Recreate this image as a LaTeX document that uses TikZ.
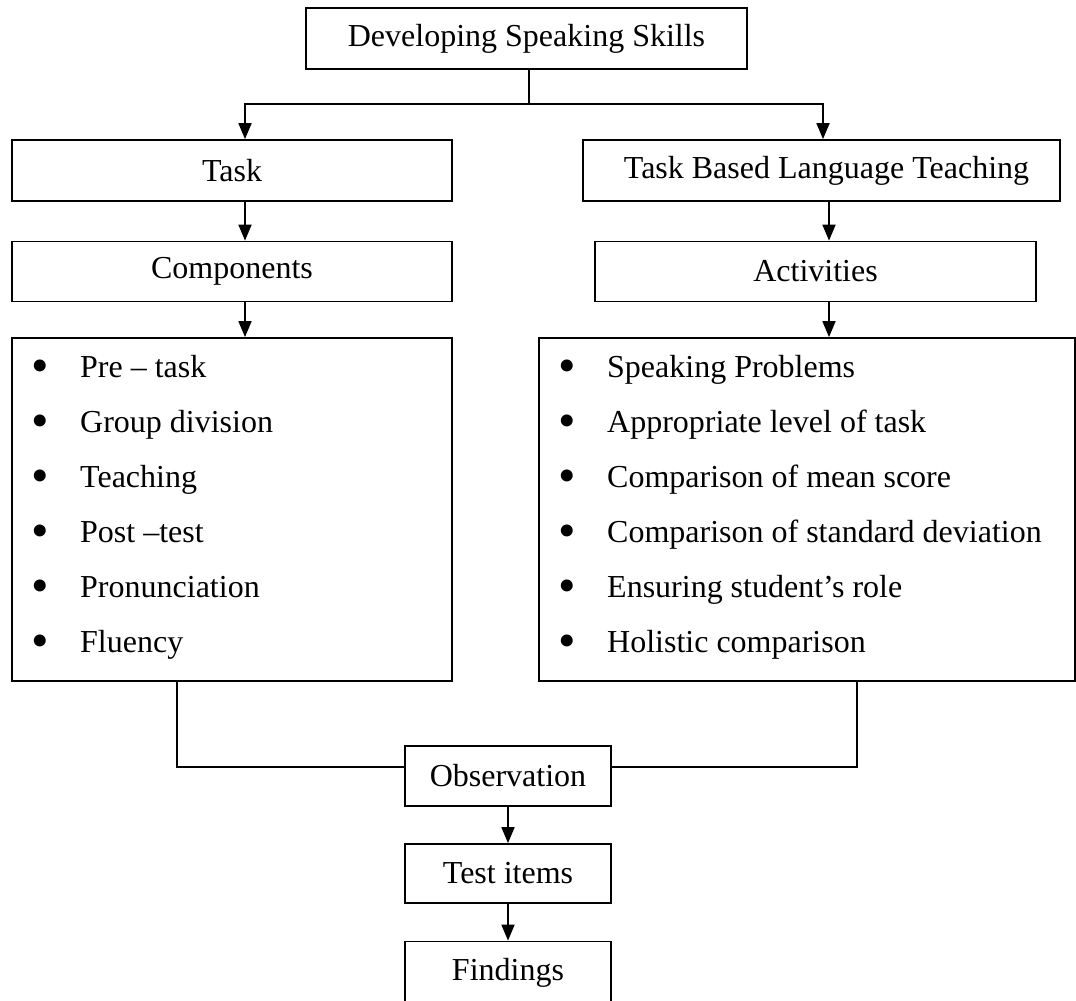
\documentclass[tikz,border=0pt]{standalone}
\usepackage{fontspec}
\setmainfont{Liberation Serif}
\usetikzlibrary{arrows.meta,positioning}
\tikzstyle{line} = [draw, line width=1.8pt, -{Triangle[width=13pt,length=16pt]}]
\tikzstyle{link} = [draw, line width=1.8pt]
\tikzstyle{box} = [rectangle, draw, line width=1.8pt, inner sep=0pt, text centered, font=\fontsize{32}{36}\selectfont]
\tikzstyle{item} = [anchor=base west, inner sep=0pt, font=\fontsize{32}{36}\selectfont]
\newcommand{\bul}{\makebox[49pt][l]{\raisebox{-5pt}{\fontsize{50}{50}\selectfont\textbullet}}}

\begin{document}
\begin{tikzpicture}[x=1pt, y=-1pt]
		\fill[white, use as bounding box] (0,0) rectangle (1076,1001);
		\clip (0,0) rectangle (1076,1001);

		\node[box, minimum width=441pt, minimum height=61pt] (dss) at (526.5,38.5) {Developing Speaking Skills};
		\draw[link] ([xshift=2.5pt]dss.south) -- ++(0,34) coordinate (fork);

		% left branch
		\node[box, minimum width=440pt, minimum height=61pt] (task) at (232,170.5) {Task};
		\node[box, minimum width=440pt, minimum height=60pt, below of=task, node distance=101pt] (comp) {Components};
		\node[box, minimum width=440pt, minimum height=343pt, below of=comp, node distance=238pt] (complist) {};
		\path [line] (fork) -| ([xshift=13pt]task.north);
		\path [line] ([xshift=13pt]task.south) to ([xshift=13pt]comp.north);
		\path [line] ([xshift=13pt]comp.south) to ([xshift=13pt]complist.north);

		\node[item] (pretask) at (31,377) {\bul Pre – task};
		\node[item] (group) at (31,432) {\bul Group division};
		\node[item] (teach) at (31,487) {\bul Teaching};
		\node[item] (posttest) at (31,542) {\bul Post –test};
		\node[item] (pron) at (31,597) {\bul Pronunciation};
		\node[item] (fluency) at (31,652) {\bul Fluency};

		% right branch
		\node[box, minimum width=477pt, minimum height=61pt] (tblt) at (821.5,170.5) {\hspace{10pt}Task Based Language Teaching};
		\node[box, minimum width=441pt, minimum height=60pt, below of=tblt, node distance=101pt, xshift=-6pt] (act) {Activities};
		\node[box, minimum width=536pt, minimum height=343pt, below of=act, node distance=238pt, xshift=-8.5pt] (actlist) {};
		\path [line] (fork) -| ([xshift=1.5pt]tblt.north);
		\path [line] ([xshift=7.5pt]tblt.south) to ([xshift=13.5pt]act.north);
		\path [line] ([xshift=13.5pt]act.south) to ([xshift=22pt]actlist.north);

		\node[item] (problems) at (558,377) {\bul Speaking Problems};
		\node[item] (level) at (558,432) {\bul Appropriate level of task};
		\node[item] (mean) at (558,487) {\bul Comparison of mean score};
		\node[item] (stdev) at (558,542) {\bul Comparison of standard deviation};
		\node[item] (role) at (558,597) {\bul Ensuring student’s role};
		\node[item] (holistic) at (558,652) {\bul Holistic comparison};

		% bottom
		\node[box, minimum width=206pt, minimum height=60pt] (obs) at (508,776) {Observation};
		\node[box, minimum width=206pt, minimum height=59pt, below of=obs, node distance=97.5pt] (items) {Test items};
		\node[box, minimum width=206pt, minimum height=62pt, below of=items, node distance=99pt] (find) {Findings};

		\path [link] ([xshift=-55pt]complist.south) |- ([yshift=9pt]obs.west);
		\path [link] ([xshift=50pt]actlist.south) |- ([yshift=9pt]obs.east);
		\path [line] (obs) to (items);
		\path [line] (items) to (find);
	\end{tikzpicture}
\end{document}
